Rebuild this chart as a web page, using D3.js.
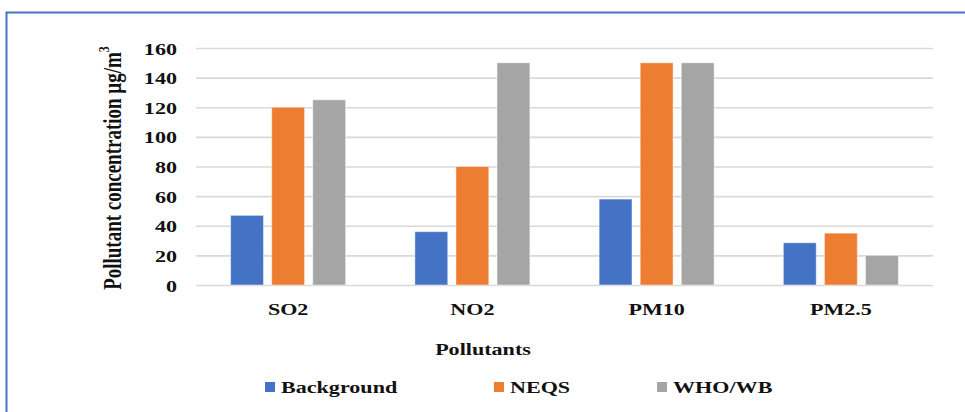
<!DOCTYPE html>
<html>
<head>
<meta charset="utf-8">
<script src="https://cdn.jsdelivr.net/npm/d3@7"></script>
<style>
  html, body { margin: 0; padding: 0; background: #fff; }
  svg { display: block; }
  text { font-family: "Liberation Serif", "Times New Roman", serif; font-weight: bold; fill: #111; }
</style>
</head>
<body>
<svg id="chart" width="965" height="412"></svg>
<script>
// Pollutant concentrations (µg/m³)
const categories = ["SO2", "NO2", "PM10", "PM2.5"];
const seriesNames = ["Background", "NEQS", "WHO/WB"];
const background = [47, 36, 58, 28.5];
const neqs = [120, 80, 150, 35];
const whoWb = [125, 150, 150, 20];
const yTicks = [0, 20, 40, 60, 80, 100, 120, 140, 160];
const colors = ["#4472c4", "#ed7d31", "#a5a5a5"];

const seriesValues = [background, neqs, whoWb];

const svg = d3.select("#chart");
const W = 965, H = 412;
const plot = { left: 196, right: 933, top: 48, bottom: 285 };
const STRETCH = 1.3; // horizontal glyph stretch of the typeface
const FS = 17;

// frame
svg.append("rect")
  .attr("x", 6.5).attr("y", 12.5)
  .attr("width", W + 20).attr("height", H + 20)
  .attr("fill", "none").attr("stroke", "#4472c4").attr("stroke-width", 2);

const x0 = d3.scaleBand().domain(categories).range([plot.left, plot.right]);
const x1 = d3.scaleBand().domain(seriesNames).range([0, 115]).paddingInner(0.2);
const y = d3.scaleLinear().domain([0, 160]).range([plot.bottom, plot.top]);

function stretchedText(g, x, yy, str, anchor) {
  return g.append("text")
    .attr("transform", `translate(${x},${yy}) scale(${STRETCH},1)`)
    .attr("text-anchor", anchor || "middle")
    .attr("dominant-baseline", "central")
    .style("font-size", FS + "px")
    .text(str);
}

// gridlines
const yAxis = d3.axisLeft(y).tickValues(yTicks).tickSize(-(plot.right - plot.left)).tickFormat("");
const ga = svg.append("g").attr("transform", `translate(${plot.left},0)`).call(yAxis);
ga.select(".domain").remove();
ga.selectAll(".tick line").attr("stroke", "#d9d9d9").attr("stroke-width", 1.6);

// tick labels
const tl = svg.append("g");
yTicks.forEach(t => stretchedText(tl, 177, y(t) + 0.5, String(t), "end"));

// bars
const groups = svg.append("g").selectAll("g")
  .data(categories)
  .join("g")
  .attr("transform", d => `translate(${x0(d) + x0.bandwidth() / 2 - 57.5},0)`);

groups.selectAll("rect")
  .data((d, i) => seriesNames.map((s, j) => ({ s, v: seriesValues[j][i], c: colors[j] })))
  .join("rect")
  .attr("x", d => x1(d.s))
  .attr("y", d => y(d.v))
  .attr("width", x1.bandwidth())
  .attr("height", d => y(0) - y(d.v))
  .attr("fill", d => d.c)
  .attr("stroke", "rgba(255,255,255,0.45)")
  .attr("stroke-width", 1);

// category labels
const cl = svg.append("g");
categories.forEach(c => stretchedText(cl, x0(c) + x0.bandwidth() / 2, 309, c));

// axis titles
stretchedText(svg, 483, 349, "Pollutants");

const yt = svg.append("text")
  .attr("transform", "translate(112,168) scale(1.3,1) rotate(-90)")
  .attr("text-anchor", "middle")
  .attr("dominant-baseline", "central")
  .style("font-size", "19px");
yt.append("tspan").text("Pollutant concentration µg/m");
yt.append("tspan").attr("dy", -7).style("font-size", "12px").text("3");

// legend
const legendX = [265, 494, 657];
const lg = svg.append("g");
seriesNames.forEach((s, i) => {
  lg.append("rect")
    .attr("x", legendX[i]).attr("y", 382)
    .attr("width", 10).attr("height", 10)
    .attr("fill", colors[i]);
  stretchedText(lg, legendX[i] + 16, 387, s, "start");
});
</script>
</body>
</html>
